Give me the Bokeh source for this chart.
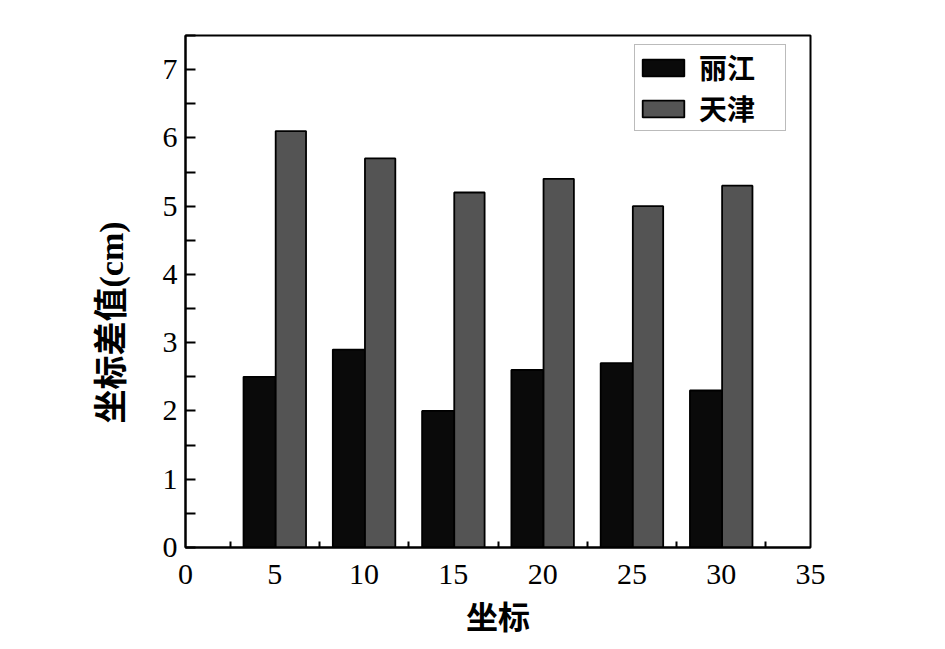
from bokeh.plotting import figure
from bokeh.models import Range1d, FixedTicker, Legend, LegendItem, Title, ColumnDataSource
from bokeh.embed import file_html
from bokeh.resources import INLINE

# data
positions = [5, 10, 15, 20, 25, 30]
lijiang = [2.5, 2.9, 2.0, 2.6, 2.7, 2.3]
tianjin = [6.1, 5.7, 5.2, 5.4, 5.0, 5.3]
series_names = ["丽江", "天津"]
x_ticks = [0, 5, 10, 15, 20, 25, 30, 35]
x_minor = [2.5, 7.5, 12.5, 17.5, 22.5, 27.5, 32.5]
y_ticks = [0, 1, 2, 3, 4, 5, 6, 7]
y_minor = [0.5, 1.5, 2.5, 3.5, 4.5, 5.5, 6.5, 7.5]
x_title = "坐标"
y_title = "坐标差值(cm)"

FONT = "'Liberation Serif', 'Noto Sans CJK SC', serif"

p = figure(width=940, height=645, output_backend="svg", toolbar_location=None,
           x_range=Range1d(0, 35), y_range=Range1d(0, 7.5),
           min_border_left=185, min_border_right=130, min_border_top=35, min_border_bottom=98)
p.xgrid.visible = False
p.ygrid.visible = False
p.outline_line_color = "black"
p.outline_line_width = 2
p.background_fill_color = "white"
p.border_fill_color = "white"

src = ColumnDataSource(dict(
    xb=[v - 0.85 for v in positions], xg=[v + 0.9 for v in positions],
    lj=lijiang, tj=tianjin))

r1 = p.vbar(x="xb", top="lj", width=1.8, bottom=0, source=src,
            fill_color="#0a0a0a", line_color="black", line_width=1.8)
r2 = p.vbar(x="xg", top="tj", width=1.7, bottom=0, source=src,
            fill_color="#545454", line_color="black", line_width=1.8)

xa = p.xaxis[0]
xa.ticker = FixedTicker(ticks=x_ticks, minor_ticks=x_minor)
xa.major_tick_in = 0
xa.major_tick_out = 0
xa.minor_tick_in = 6
xa.minor_tick_out = 0
xa.minor_tick_line_width = 2
xa.axis_line_width = 2
xa.major_label_text_font = FONT
xa.major_label_text_font_size = "30px"
xa.major_label_text_color = "black"
xa.major_label_standoff = 17
xa.axis_label = x_title
xa.axis_label_text_font = FONT
xa.axis_label_text_font_size = "32px"
xa.axis_label_text_font_style = "bold"
xa.axis_label_text_color = "black"
xa.axis_label_standoff = 13

ya = p.yaxis[0]
ya.ticker = FixedTicker(ticks=y_ticks, minor_ticks=y_minor)
ya.major_tick_in = 10
ya.major_tick_out = 0
ya.minor_tick_in = 10
ya.minor_tick_out = 0
ya.major_tick_line_width = 2
ya.minor_tick_line_width = 2
ya.axis_line_width = 2
ya.major_label_text_font = FONT
ya.major_label_text_font_size = "30px"
ya.major_label_text_color = "black"
ya.major_label_standoff = 8

ytitle = Title(text=y_title, align="left", vertical_align="middle",
               offset=124, standoff=57,
               text_font=FONT, text_font_size="34px", text_font_style="bold",
               text_color="black")
p.add_layout(ytitle, "left")

legend = Legend(items=[LegendItem(label=series_names[0], renderers=[r1]),
                       LegendItem(label=series_names[1], renderers=[r2])],
                location=(449, 416))
legend.label_text_font = FONT
legend.label_text_font_size = "28px"
legend.label_text_font_style = "bold"
legend.label_text_color = "black"
legend.glyph_width = 52
legend.glyph_height = 21
legend.label_standoff = 10
legend.label_width = 84
legend.padding = 2
legend.spacing = 1
legend.margin = 0
legend.border_line_color = "#777777"
legend.border_line_width = 1.5
legend.background_fill_alpha = 1
p.add_layout(legend)

open("out.html", "w").write(file_html(p, INLINE))
